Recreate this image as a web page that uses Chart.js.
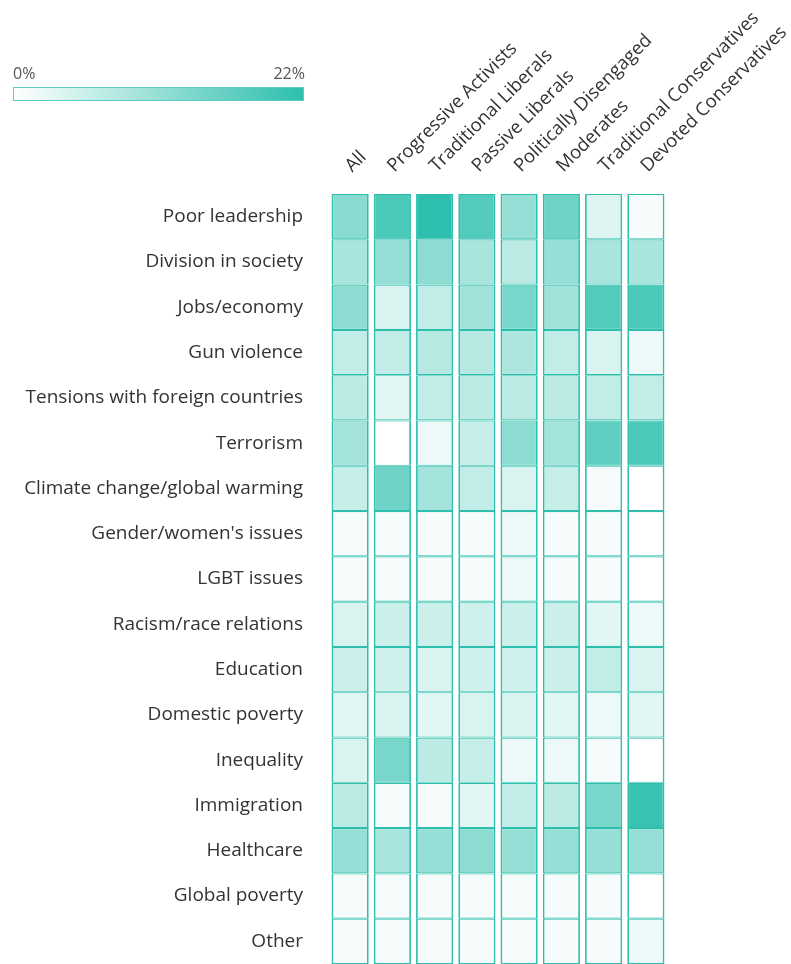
<!DOCTYPE html>
<html>
<head>
<meta charset="utf-8">
<script src="https://cdn.jsdelivr.net/npm/chart.js@4/dist/chart.umd.min.js"></script>
<style>
  html, body { margin: 0; padding: 0; background: #fff; }
  #wrap { position: relative; width: 791px; height: 964px; overflow: hidden; }
  #c { position: absolute; left: 0; top: 0; }
  .lg-lab { position: absolute; top: 62px; font-family: "Open Sans", sans-serif; font-size: 16px; color: #555; }
  #lg-bar { position: absolute; left: 13px; top: 87px; width: 289px; height: 12px;
            border: 1.5px solid #5ccfc0; background: linear-gradient(to right, #ffffff, #2dbfad); }
</style>
</head>
<body>
<div id="wrap">
  <canvas id="c" width="791" height="964"></canvas>
  <div class="lg-lab" style="left:13px">0%</div>
  <div class="lg-lab" style="right:486px">22%</div>
  <div id="lg-bar"></div>
</div>
<script>
const columns = ['All', 'Progressive Activists', 'Traditional Liberals', 'Passive Liberals',
  'Politically Disengaged', 'Moderates', 'Traditional Conservatives', 'Devoted Conservatives'];
const issues = ['Poor leadership', 'Division in society', 'Jobs/economy', 'Gun violence',
  'Tensions with foreign countries', 'Terrorism', 'Climate change/global warming',
  "Gender/women's issues", 'LGBT issues', 'Racism/race relations', 'Education',
  'Domestic poverty', 'Inequality', 'Immigration', 'Healthcare', 'Global poverty', 'Other'];

// Percent values per issue, in column order
const poorLeadership   = [12.5, 19, 22, 18, 11, 15, 3.5, 1];
const divisionSociety  = [9, 11, 12, 9, 7, 11, 9, 9];
const jobsEconomy      = [12, 4, 6.5, 10, 14, 10, 18, 19];
const gunViolence      = [6.5, 6.5, 7.5, 7.5, 8.5, 6.5, 4, 2];
const foreignTensions  = [7, 3, 6.5, 7, 7, 7, 6.5, 6.5];
const terrorism        = [9.5, 0, 2, 6, 12, 9.5, 17, 19];
const climateChange    = [6, 15, 9.5, 6.5, 4, 6, 1, 0];
const genderIssues     = [1, 1, 1, 1, 2, 1, 1, 0];
const lgbtIssues       = [1, 1, 1, 1, 2, 1, 1, 0];
const racism           = [4, 5.5, 5.5, 5, 5.5, 5.5, 3, 2];
const education        = [5.5, 5, 4, 5, 5, 5.5, 6.5, 4];
const domesticPoverty  = [3, 4, 3, 4, 4, 3, 2, 3];
const inequality       = [4, 14, 7, 6, 2, 2, 1, 0];
const immigration      = [7, 1, 1, 3, 6.5, 7, 14, 21];
const healthcare       = [11, 9, 11, 12, 11, 11, 11, 11];
const globalPoverty    = [1, 1, 1, 1, 1, 1, 1, 0];
const other            = [1, 1, 1, 1, 1, 1, 1, 2];

const scaleMax = 22;

const table = [poorLeadership, divisionSociety, jobsEconomy, gunViolence, foreignTensions,
  terrorism, climateChange, genderIssues, lgbtIssues, racism, education, domesticPoverty,
  inequality, immigration, healthcare, globalPoverty, other];

function shade(v) {
  const t = Math.max(0, Math.min(1, v / scaleMax));
  const r = Math.round(255 + (45 - 255) * t);
  const g = Math.round(255 + (191 - 255) * t);
  const b = Math.round(255 + (173 - 255) * t);
  return `rgb(${r},${g},${b})`;
}

const datasets = table.map((row, i) => ({
  label: issues[i],
  data: row.map(() => 1),
  values: row,
  backgroundColor: row.map(shade),
  borderColor: '#2ebfac',
  borderWidth: { left: 1.8, right: 1.8, top: 1.1, bottom: 1.1 },
  borderSkipped: false,
  categoryPercentage: 1,
  barPercentage: 0.88
}));

new Chart(document.getElementById('c'), {
  type: 'bar',
  data: { labels: columns, datasets },
  options: {
    responsive: false,
    animation: false,
    events: [],
    layout: { padding: { left: 0, right: 124, top: 0, bottom: 0 } },
    plugins: { legend: { display: false }, tooltip: { enabled: false } },
    scales: {
      x: {
        type: 'category',
        position: 'top',
        stacked: true,
        grid: { display: false, drawTicks: false },
        border: { display: false },
        ticks: {
          autoSkip: false, minRotation: 45, maxRotation: 45, padding: 17, labelOffset: 14,
          color: '#333', font: { family: 'Open Sans', size: 18.5 }
        },
        afterFit(s) { s.height = 194; s.paddingLeft = 0; s.paddingRight = 0; }
      },
      y: {
        type: 'linear',
        stacked: true,
        reverse: true,
        min: 0,
        max: issues.length,
        display: false
      },
      yl: {
        type: 'category',
        labels: issues,
        position: 'left',
        offset: true,
        grid: { display: false, drawTicks: false },
        border: { display: false },
        ticks: { padding: 26, color: '#333', font: { family: 'Open Sans', size: 19 } },
        afterFit(s) { s.width = 329; s.paddingTop = 0; s.paddingBottom = 0; }
      }
    }
  }
});
</script>
</body>
</html>
